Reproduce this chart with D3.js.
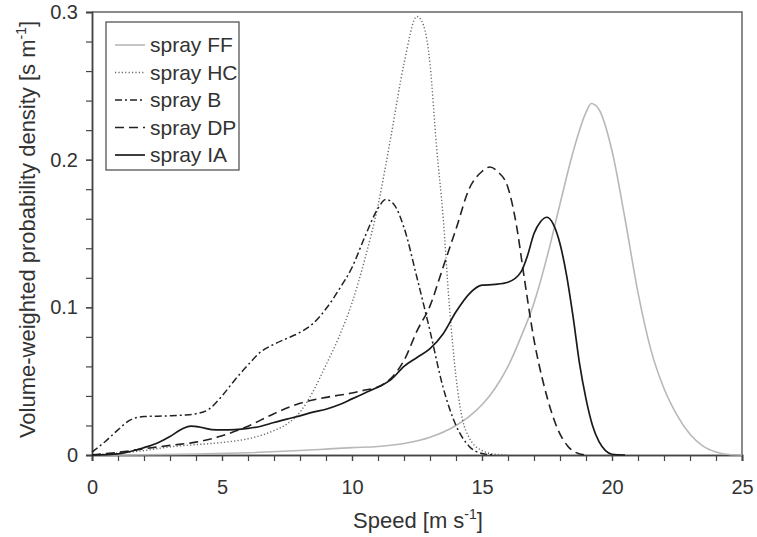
<!DOCTYPE html>
<html>
<head>
<meta charset="utf-8">
<script src="https://cdnjs.cloudflare.com/ajax/libs/d3/7.8.5/d3.min.js"></script>
<style>
  body { margin: 0; background: #fff; }
  text { font-family: "Liberation Sans", Arial, sans-serif; fill: #333; }
</style>
</head>
<body>
<script>
/* data: speed [m/s] and density [s/m] */
const ffX = [0, 2, 4, 6, 8, 9, 10, 11, 12, 13, 14, 14.5, 15, 15.5, 16, 16.5, 17, 17.5, 18, 18.5, 19, 19.2, 19.5, 20, 20.5, 21, 21.5, 22, 22.5, 23, 23.5, 24, 24.5, 25];
const ffY = [0, 0.0002, 0.0006, 0.0015, 0.003, 0.004, 0.005, 0.0058, 0.0078, 0.012, 0.02, 0.026, 0.034, 0.045, 0.06, 0.08, 0.103, 0.134, 0.17, 0.205, 0.232, 0.238, 0.234, 0.206, 0.16, 0.11, 0.071, 0.045, 0.027, 0.014, 0.006, 0.002, 0.0003, 0];

const hcX = [0, 1, 2, 3, 4, 5, 6, 7, 7.5, 8, 8.5, 9, 9.5, 10, 10.5, 11, 11.5, 12, 12.5, 12.75, 13, 13.25, 13.5, 13.75, 14, 14.25, 14.5, 15, 15.5, 16];
const hcY = [0, 0.0012, 0.003, 0.0055, 0.007, 0.0085, 0.011, 0.0165, 0.021, 0.029, 0.043, 0.061, 0.08, 0.103, 0.133, 0.169, 0.216, 0.265, 0.297, 0.291, 0.265, 0.209, 0.162, 0.1, 0.053, 0.024, 0.012, 0.003, 0.0005, 0];

const bX = [0, 0.5, 1, 1.5, 2, 3, 3.5, 4, 4.5, 5, 5.5, 6, 6.5, 7, 7.5, 8, 8.5, 9, 9.5, 10, 10.5, 11, 11.3, 11.6, 12, 12.5, 13, 13.5, 14, 14.5, 15, 15.5];
const bY = [0.002, 0.009, 0.017, 0.024, 0.026, 0.0265, 0.027, 0.028, 0.031, 0.04, 0.051, 0.061, 0.07, 0.075, 0.079, 0.083, 0.089, 0.099, 0.112, 0.127, 0.148, 0.167, 0.173, 0.17, 0.154, 0.12, 0.084, 0.046, 0.02, 0.006, 0.001, 0];

const dpX = [0, 1, 2, 3, 4, 5, 6, 7, 8, 9, 10, 10.5, 11, 11.5, 12, 12.5, 13, 13.5, 14, 14.5, 15, 15.3, 15.6, 16, 16.33, 16.6, 17, 17.4, 17.9, 18.3, 18.7, 19];
const dpY = [0, 0.0018, 0.0042, 0.0065, 0.0087, 0.013, 0.0195, 0.028, 0.035, 0.039, 0.042, 0.044, 0.046, 0.052, 0.064, 0.084, 0.101, 0.127, 0.153, 0.18, 0.192, 0.195, 0.192, 0.181, 0.155, 0.123, 0.078, 0.046, 0.018, 0.006, 0.001, 0];

const iaX = [0, 1, 2, 2.5, 3, 3.5, 3.8, 4.2, 4.6, 5, 5.5, 6, 6.5, 7, 7.5, 8, 8.5, 9, 9.5, 10, 10.5, 11, 11.5, 12, 12.5, 13, 13.5, 14, 14.5, 15, 15.5, 16, 16.5, 16.75, 17, 17.25, 17.5, 17.75, 18, 18.25, 18.5, 18.75, 19, 19.25, 19.5, 19.75, 20, 20.5];
const iaY = [0, 0.0008, 0.005, 0.008, 0.0125, 0.018, 0.0195, 0.0187, 0.0172, 0.017, 0.0172, 0.018, 0.0195, 0.022, 0.0243, 0.0265, 0.029, 0.031, 0.034, 0.038, 0.042, 0.046, 0.051, 0.06, 0.066, 0.072, 0.082, 0.097, 0.109, 0.115, 0.1155, 0.117, 0.124, 0.135, 0.15, 0.158, 0.161, 0.156, 0.143, 0.122, 0.094, 0.062, 0.038, 0.02, 0.009, 0.003, 0.0005, 0];

const seriesNames = ['spray FF', 'spray HC', 'spray B', 'spray DP', 'spray IA'];
const xTicks = [0, 5, 10, 15, 20, 25];
const yTicks = [0, 0.1, 0.2, 0.3];

const series = [
  { name: seriesNames[0], xs: ffX, ys: ffY, color: '#b8b8b8', width: 1.6, dash: null },
  { name: seriesNames[1], xs: hcX, ys: hcY, color: '#666', width: 1.4, dash: '1.2,2.2' },
  { name: seriesNames[2], xs: bX, ys: bY, color: '#222', width: 1.5, dash: '7,3,2,3' },
  { name: seriesNames[3], xs: dpX, ys: dpY, color: '#222', width: 1.6, dash: '9,5' },
  { name: seriesNames[4], xs: iaX, ys: iaY, color: '#1a1a1a', width: 1.7, dash: null }
];

const margin = { top: 12, right: 15, bottom: 82, left: 92 },
  width = 757 - margin.left - margin.right,
  height = 537 - margin.top - margin.bottom;

const xScale = d3.scaleLinear().domain([0, 25]).range([0, width]);
const yScale = d3.scaleLinear().domain([0, 0.3]).range([height, 0]);

const svg = d3.select('body').append('svg')
  .attr('width', 757)
  .attr('height', 537)
  .append('g')
  .attr('transform', 'translate(' + margin.left + ',' + margin.top + ')');

// frame top & right
svg.append('path')
  .attr('d', `M0,0H${width}V${height}`)
  .attr('fill', 'none')
  .attr('stroke', '#666')
  .attr('stroke-width', 1.5);

/* axes: minor ticks first, then labelled major ones */
const xMinor = d3.axisBottom(xScale).tickValues(d3.range(0, 26, 1)).tickSize(6).tickFormat('');
const xMajor = d3.axisBottom(xScale).tickValues(xTicks).tickSize(6).tickPadding(19).tickFormat(d3.format('d'));
const yMinor = d3.axisLeft(yScale).tickValues(d3.range(0, 0.301, 0.02)).tickSize(6).tickFormat('');
const yMajor = d3.axisLeft(yScale).tickValues(yTicks).tickSize(6).tickPadding(8)
  .tickFormat(d => d === 0 ? '0' : d3.format('.1f')(d));

function styleAxis(g) {
  g.select('.domain').attr('stroke', '#444').attr('stroke-width', 1.5);
  g.selectAll('.tick line').attr('stroke', '#444').attr('stroke-width', 1.2);
  g.selectAll('.tick text').style('font-size', '20px').style('fill', '#333')
    .style('font-family', '"Liberation Sans", Arial, sans-serif');
}

svg.append('g').attr('transform', `translate(0,${height})`).call(xMinor).call(styleAxis);
svg.append('g').attr('transform', `translate(0,${height})`).call(xMajor).call(styleAxis);
svg.append('g').call(yMinor).call(styleAxis);
svg.append('g').call(yMajor).call(styleAxis);

/* axis titles */
const xLab = svg.append('text')
  .attr('x', width / 2 + 1)
  .attr('y', height + 73)
  .attr('text-anchor', 'middle')
  .style('font-size', '22px');
xLab.append('tspan').text('Speed [m s');
xLab.append('tspan').text('-1').attr('dy', -9).style('font-size', '14px');
xLab.append('tspan').text(']').attr('dy', 9);

const yLab = svg.append('text')
  .attr('transform', `translate(-57,${height / 2 - 4}) rotate(-90)`)
  .attr('text-anchor', 'middle')
  .style('font-size', '22px');
yLab.append('tspan').text('Volume-weighted probability density [s m');
yLab.append('tspan').text('-1').attr('dy', -9).style('font-size', '14px');
yLab.append('tspan').text(']').attr('dy', 9);

/* curves */
const line = d3.line()
  .x(d => xScale(d[0]))
  .y(d => yScale(d[1]))
  .curve(d3.curveMonotoneX);

svg.selectAll('.curve')
  .data(series)
  .enter().append('path')
  .attr('class', 'curve')
  .attr('d', s => line(s.xs.map((x, i) => [x, s.ys[i]])))
  .attr('fill', 'none')
  .attr('stroke', s => s.color)
  .attr('stroke-width', s => s.width)
  .attr('stroke-dasharray', s => s.dash);

/* legend */
const legend = svg.append('g').attr('transform', 'translate(14,10)');
legend.append('rect')
  .attr('width', 133)
  .attr('height', 148)
  .attr('fill', '#fff')
  .attr('stroke', '#555')
  .attr('stroke-width', 1.3);

const item = legend.selectAll('.legend')
  .data(series)
  .enter().append('g')
  .attr('class', 'legend')
  .attr('transform', (d, i) => `translate(0,${23 + i * 27.5})`);

item.append('line')
  .attr('x1', 9).attr('x2', 39)
  .attr('stroke', d => d.color)
  .attr('stroke-width', d => d.width)
  .attr('stroke-dasharray', d => d.dash);

item.append('text')
  .attr('x', 44)
  .attr('y', 7)
  .style('font-size', '21px')
  .text(d => d.name);
</script>
</body>
</html>
